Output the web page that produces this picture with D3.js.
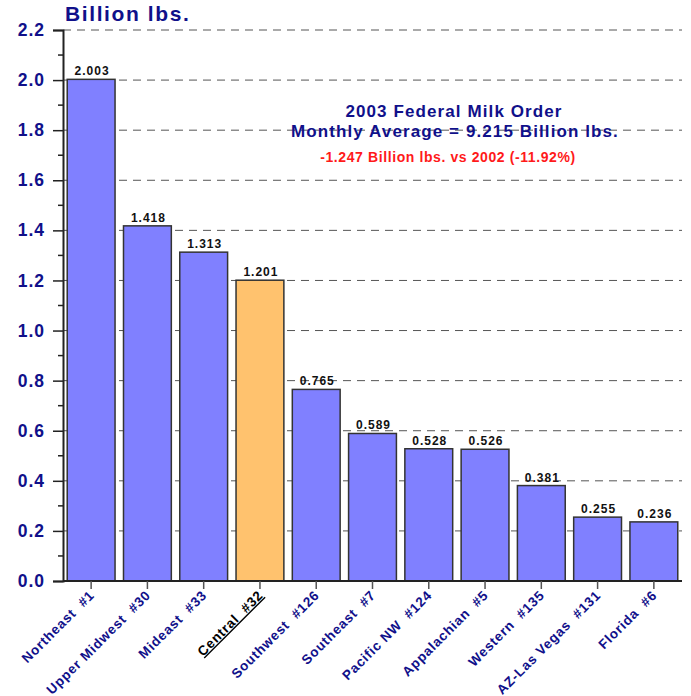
<!DOCTYPE html>
<html>
<head>
<meta charset="utf-8">
<script src="https://cdn.jsdelivr.net/npm/d3@7"></script>
<style>
  body { margin: 0; background: #fff; }
  svg { font-family: Arial, "Liberation Sans", sans-serif; }
</style>
</head>
<body>
<svg id="chart" width="691" height="696"></svg>
<script>
const regions = ['Northeast  #1', 'Upper Midwest  #30', 'Mideast  #33', 'Central  #32', 'Southwest  #126',
  'Southeast  #7', 'Pacific NW  #124', 'Appalachian  #5', 'Western  #135', 'AZ-Las Vegas  #131', 'Florida  #6'];
const volumes = [2.003, 1.418, 1.313, 1.201, 0.765, 0.589, 0.528, 0.526, 0.381, 0.255, 0.236];
const yTicks = [0, 0.2, 0.4, 0.6, 0.8, 1.0, 1.2, 1.4, 1.6, 1.8, 2.0, 2.2];
const highlight = 'Central  #32';
const noteLines = ['2003 Federal Milk Order', 'Monthly Average = 9.215 Billion lbs.'];
const noteRed = '-1.247 Billion lbs. vs 2002 (-11.92%)';

const navy = '#10108a';
const svg = d3.select('#chart');
const margin = {left: 63, right: 9, top: 30, bottom: 115};
const width = 691, height = 696;

const x = d3.scaleBand()
  .domain(regions)
  .range([margin.left, width - margin.right])
  .paddingInner(0.15)
  .paddingOuter(0.075);

const y = d3.scaleLinear()
  .domain([0, 2.2])
  .range([height - margin.bottom, margin.top]);

// dashed grid
svg.append('g')
  .selectAll('line')
  .data(yTicks.slice(1))
  .enter()
  .append('line')
    .attr('x1', margin.left)
    .attr('x2', width - margin.right)
    .attr('y1', d => y(d))
    .attr('y2', d => y(d))
    .attr('stroke', '#555')
    .attr('stroke-width', 1)
    .attr('stroke-dasharray', '8,6');

// bars
svg.append('g')
  .selectAll('rect')
  .data(volumes)
  .enter()
  .append('rect')
    .attr('x', (d, i) => x(regions[i]))
    .attr('y', d => y(d))
    .attr('width', x.bandwidth())
    .attr('height', d => y(0) - y(d))
    .attr('fill', (d, i) => regions[i] === highlight ? '#ffc26e' : '#8080ff')
    .attr('stroke', '#333')
    .attr('stroke-width', 1.5);

// value labels
svg.append('g')
  .selectAll('text')
  .data(volumes)
  .enter()
  .append('text')
    .attr('x', (d, i) => x(regions[i]) + x.bandwidth() / 2 + 1)
    .attr('y', d => y(d) - 4)
    .attr('text-anchor', 'middle')
    .attr('font-size', 12)
    .attr('font-weight', 'bold')
    .attr('letter-spacing', 1)
    .attr('fill', '#111')
    .text(d => d.toFixed(3));

// y axis
const yAxis = svg.append('g')
  .attr('transform', `translate(${margin.left},0)`)
  .call(d3.axisLeft(y).tickValues(yTicks).tickFormat(d3.format('.1f')).tickSize(10).tickPadding(8));
yAxis.select('.domain').attr('stroke', '#222').attr('stroke-width', 2);
yAxis.selectAll('.tick line').attr('stroke', '#222').attr('stroke-width', 1.5);
yAxis.selectAll('text')
  .attr('font-size', 17.5)
  .attr('font-weight', 'bold')
  .attr('letter-spacing', 1)
  .attr('fill', navy)
  .attr('font-family', 'Arial, "Liberation Sans", sans-serif');

// minor ticks
svg.append('g')
  .selectAll('line')
  .data(d3.range(0.1, 2.2, 0.2))
  .enter()
  .append('line')
    .attr('x1', margin.left - 5)
    .attr('x2', margin.left)
    .attr('y1', d => y(d))
    .attr('y2', d => y(d))
    .attr('stroke', '#222')
    .attr('stroke-width', 1.5);

// x axis
const xAxis = svg.append('g')
  .attr('transform', `translate(0,${y(0)})`)
  .call(d3.axisBottom(x).tickSize(8).tickFormat(''));
xAxis.select('.domain').attr('stroke', '#222').attr('stroke-width', 2)
  .attr('d', `M${margin.left},0H${width - margin.right}`);
xAxis.selectAll('.tick line').attr('stroke', '#555').attr('stroke-width', 1.5);

svg.append('g')
  .selectAll('text')
  .data(regions)
  .enter()
  .append('text')
    .attr('transform', d => `translate(${x(d) + x.bandwidth() / 2 + 4},${y(0) + 15}) rotate(-45)`)
    .attr('text-anchor', 'end')
    .attr('font-size', 13.5)
    .attr('font-weight', 'bold')
    .attr('letter-spacing', 0.8)
    .style('white-space', 'pre')
    .attr('fill', d => d === highlight ? '#000' : navy)
    .style('text-decoration', d => d === highlight ? 'underline' : 'none')
    .text(d => d);

// title
svg.append('text')
  .attr('x', 65)
  .attr('y', 21)
  .attr('font-size', 21)
  .attr('font-weight', 'bold')
  .attr('letter-spacing', 1.6)
  .attr('fill', navy)
  .text('Billion lbs.');

// annotation
svg.append('g')
  .selectAll('text')
  .data(noteLines)
  .enter()
  .append('text')
    .attr('x', (d, i) => i === 0 ? 454 : 455)
    .attr('y', (d, i) => 117 + i * 20)
    .attr('text-anchor', 'middle')
    .attr('font-size', 17)
    .attr('font-weight', 'bold')
    .attr('letter-spacing', 1.1)
    .attr('fill', navy)
    .text(d => d);

svg.append('text')
  .attr('x', 448)
  .attr('y', 162)
  .attr('text-anchor', 'middle')
  .attr('font-size', 14)
  .attr('font-weight', 'bold')
  .attr('letter-spacing', 0.6)
  .attr('fill', '#ff1a1a')
  .text(noteRed);
</script>
</body>
</html>
